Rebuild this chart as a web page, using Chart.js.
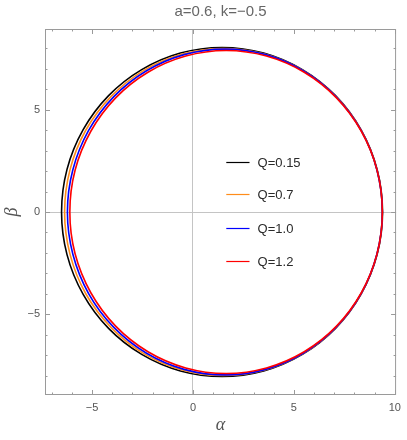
<!DOCTYPE html>
<html>
<head>
<meta charset="utf-8">
<script src="https://cdn.jsdelivr.net/npm/chart.js@4.4.1/dist/chart.umd.min.js"></script>
<style>
  html, body { margin: 0; padding: 0; background: #fff; }
  #wrap { position: relative; width: 407px; height: 440px; }
</style>
</head>
<body>
<div id="wrap"><canvas id="shadow-chart"></canvas></div>
<script>
// shadow contours (alpha, beta), one closed loop per Q.
// each loop repeats one neighbour at both ends so the join stays smooth.
const qLabels = ["Q=0.15", "Q=0.7", "Q=1.0", "Q=1.2"];
const qColors = ["#000000", "#FF8C1A", "#0000FF", "#FF0000"];

const alphaQ015 = [9.12, 9.39, 9.12, 8.32, 7.06, 5.42, 3.50, 1.44, -0.62, -2.54, -4.18, -5.44, -6.24, -6.51, -6.24, -5.44, -4.18, -2.54, -0.62, 1.44, 3.50, 5.42, 7.06, 8.32, 9.12, 9.39, 9.12];
const betaQ015 = [-2.08, 0, 2.08, 4.02, 5.68, 6.95, 7.76, 8.03, 7.76, 6.95, 5.68, 4.02, 2.08, 0, -2.08, -4.02, -5.68, -6.95, -7.76, -8.03, -7.76, -6.95, -5.68, -4.02, -2.08, 0, 2.08];

const alphaQ07 = [9.11, 9.38, 9.11, 8.33, 7.08, 5.45, 3.55, 1.51, -0.53, -2.43, -4.05, -5.31, -6.09, -6.36, -6.09, -5.31, -4.05, -2.43, -0.53, 1.51, 3.55, 5.45, 7.08, 8.33, 9.11, 9.38, 9.11];
const betaQ07 = [-2.07, 0, 2.07, 3.99, 5.64, 6.91, 7.71, 7.98, 7.71, 6.91, 5.64, 3.99, 2.07, 0, -2.07, -3.99, -5.64, -6.91, -7.71, -7.98, -7.71, -6.91, -5.64, -3.99, -2.07, 0, 2.07];

const alphaQ10 = [9.11, 9.38, 9.11, 8.33, 7.09, 5.48, 3.60, 1.58, -0.44, -2.32, -3.93, -5.17, -5.95, -6.22, -5.95, -5.17, -3.93, -2.32, -0.44, 1.58, 3.60, 5.48, 7.09, 8.33, 9.11, 9.38, 9.11];
const betaQ10 = [-2.06, 0, 2.06, 3.98, 5.62, 6.88, 7.68, 7.95, 7.68, 6.88, 5.62, 3.98, 2.06, 0, -2.06, -3.98, -5.62, -6.88, -7.68, -7.95, -7.68, -6.88, -5.62, -3.98, -2.06, 0, 2.06];

const alphaQ12 = [9.12, 9.38, 9.12, 8.34, 7.11, 5.51, 3.64, 1.64, -0.36, -2.23, -3.83, -5.06, -5.84, -6.10, -5.84, -5.06, -3.83, -2.23, -0.36, 1.64, 3.64, 5.51, 7.11, 8.34, 9.12, 9.38, 9.12];
const betaQ12 = [-2.04, 0, 2.04, 3.94, 5.57, 6.82, 7.61, 7.88, 7.61, 6.82, 5.57, 3.94, 2.04, 0, -2.04, -3.94, -5.57, -6.82, -7.61, -7.88, -7.61, -6.82, -5.57, -3.94, -2.04, 0, 2.04];

const alphaSeries = [alphaQ015, alphaQ07, alphaQ10, alphaQ12];
const betaSeries = [betaQ015, betaQ07, betaQ10, betaQ12];

const datasets = qLabels.map((label, i) => {
  const last = alphaSeries[i].length - 1;
  return {
    label: label,
    data: alphaSeries[i].map((a, j) => ({ x: a, y: betaSeries[i][j] })),
    borderColor: qColors[i],
    backgroundColor: qColors[i],
    borderWidth: 1.6,
    showLine: true,
    tension: 0.34,
    pointRadius: 0,
    order: qLabels.length - i, // later Q on top
    // the repeated end points only shape the curve, don't stroke them
    segment: {
      borderColor: (c) => (c.p0DataIndex === 0 || c.p1DataIndex === last ? "rgba(0,0,0,0)" : undefined),
    },
  };
});

const minus = (v) => String(v).replace("-", "\u2212");

// frame, inner ticks and the in-plot legend (Mathematica style)
const framePlugin = {
  id: "frame",
  afterLayout(chart) {
    // centre the title over the plot area
    if (chart.titleBlock) {
      chart.titleBlock.left = chart.chartArea.left;
      chart.titleBlock.right = chart.chartArea.right;
    }
  },
  afterDatasetsDraw(chart) {
    const { ctx, chartArea: ca, scales } = chart;
    const xs = scales.x, ys = scales.y;
    ctx.save();
    ctx.strokeStyle = "#9a9a9a";
    ctx.lineWidth = 1;
    ctx.strokeRect(ca.left + 0.5, ca.top + 0.5, ca.right - ca.left - 1, ca.bottom - ca.top - 1);

    ctx.beginPath();
    xs.ticks.forEach((t) => {
      const px = Math.round(xs.getPixelForValue(t.value)) + 0.5;
      const len = t.value % 5 === 0 ? 5 : 2.5;
      ctx.moveTo(px, ca.bottom); ctx.lineTo(px, ca.bottom - len);
      ctx.moveTo(px, ca.top); ctx.lineTo(px, ca.top + len);
    });
    ys.ticks.forEach((t) => {
      const py = Math.round(ys.getPixelForValue(t.value)) + 0.5;
      const len = t.value % 5 === 0 ? 5 : 2.5;
      ctx.moveTo(ca.left, py); ctx.lineTo(ca.left + len, py);
      ctx.moveTo(ca.right, py); ctx.lineTo(ca.right - len, py);
    });
    ctx.stroke();

    // legend rows, placed in data coordinates
    const rowsBeta = [2.45, 0.88, -0.78, -2.38];
    const x0 = xs.getPixelForValue(1.65), x1 = xs.getPixelForValue(2.8), xt = xs.getPixelForValue(3.2);
    ctx.font = "13px 'Liberation Sans', Arial, sans-serif";
    ctx.textBaseline = "middle";
    ctx.textAlign = "left";
    qLabels.forEach((label, i) => {
      const py = Math.round(ys.getPixelForValue(rowsBeta[i])) + 0.5;
      ctx.strokeStyle = qColors[i];
      ctx.lineWidth = 1.2;
      ctx.beginPath();
      ctx.moveTo(x0, py); ctx.lineTo(x1, py);
      ctx.stroke();
      ctx.fillStyle = "#2a2a2a";
      ctx.fillText(label, xt, py + 1);
    });
    ctx.restore();
  },
};

const zeroGrid = (c) => (c.tick && c.tick.value === 0 ? "#c4c4c4" : "rgba(0,0,0,0)");

new Chart(document.getElementById("shadow-chart").getContext("2d"), {
  type: "scatter",
  data: { datasets: datasets },
  options: {
    responsive: true,
    maintainAspectRatio: false,
    animation: false,
    layout: { padding: { right: 6 } },
    plugins: {
      legend: { display: false },
      tooltip: { enabled: false },
      title: {
        display: true,
        text: "a=0.6, k=\u22120.5",
        color: "#666",
        font: { family: "'Liberation Sans', Arial, sans-serif", size: 15, weight: "normal" },
        padding: { top: 3, bottom: 8 },
      },
    },
    scales: {
      x: {
        type: "linear",
        min: -7.33,
        max: 10.06,
        border: { display: false },
        grid: { color: zeroGrid, drawTicks: false, lineWidth: 1 },
        ticks: {
          stepSize: 1,
          includeBounds: false,
          autoSkip: false,
          maxRotation: 0,
          padding: 6,
          color: "#555",
          font: { family: "'Liberation Sans', Arial, sans-serif", size: 11 },
          callback: (v) => (v % 5 === 0 ? minus(v) : ""),
        },
        title: {
          display: true,
          text: "\u03b1",
          color: "#555",
          font: { family: "'Liberation Serif', serif", size: 18, style: "italic" },
          padding: { top: 0, bottom: 4 },
        },
        afterFit: (s) => { s.height = 45; },
      },
      y: {
        type: "linear",
        min: -8.93,
        max: 8.93,
        border: { display: false },
        grid: { color: zeroGrid, drawTicks: false, lineWidth: 1 },
        ticks: {
          stepSize: 1,
          includeBounds: false,
          autoSkip: false,
          padding: 5,
          color: "#555",
          font: { family: "'Liberation Sans', Arial, sans-serif", size: 11 },
          callback: (v) => (v % 5 === 0 ? minus(v) : ""),
        },
        title: {
          display: true,
          text: "\u03b2",
          color: "#555",
          font: { family: "'Liberation Serif', serif", size: 18, style: "italic" },
          padding: { top: 1, bottom: 0 },
        },
        afterFit: (s) => { s.width = 45; },
      },
    },
  },
  plugins: [framePlugin],
});
</script>
</body>
</html>
